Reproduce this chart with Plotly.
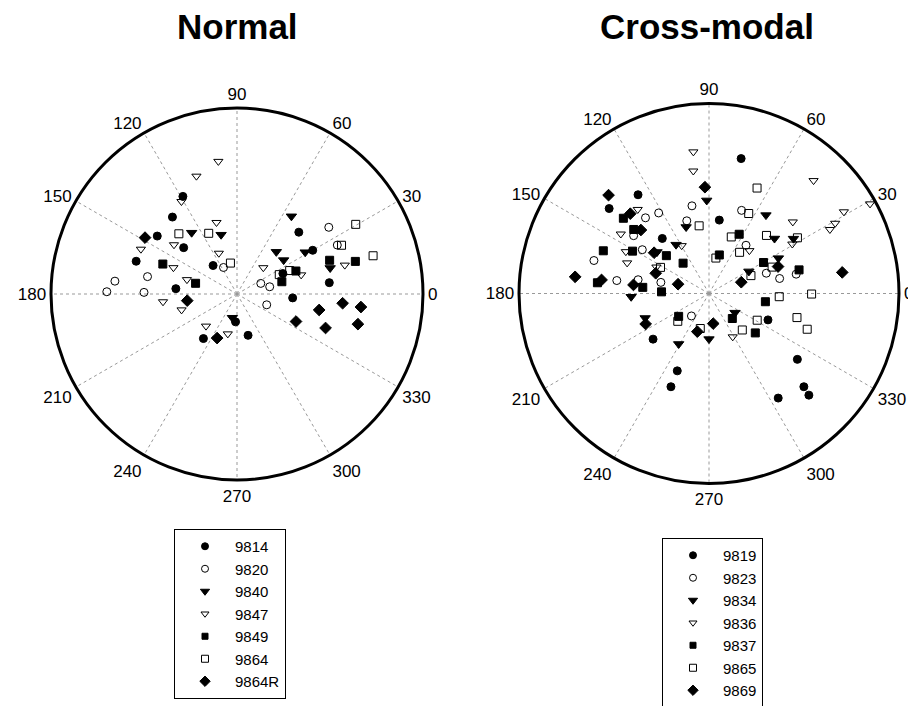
import plotly.graph_objects as go

# ---- Normal panel (angle in degrees, normalized radius) ----
n_names = ["9814", "9820", "9840", "9847", "9849", "9864", "9864R"]
n9814_theta = [119, 130, 144, 139, 162, 130, 175, 267, 233, 285, 356, 45, 30, 7, 24]
n9814_r = [0.60, 0.54, 0.53, 0.38, 0.57, 0.20, 0.33, 0.15, 0.30, 0.23, 0.30, 0.47, 0.47, 0.50, 0.27]
n9820_theta = [117, 174, 169, 179, 179, 340, 36, 26, 24, 12.5]
n9820_r = [0.16, 0.66, 0.49, 0.70, 0.50, 0.17, 0.61, 0.60, 0.14, 0.18]
n9840_theta = [126.5, 105, 259, 55, 31.5, 47, 36, 15.6]
n9840_r = [0.41, 0.33, 0.13, 0.51, 0.43, 0.31, 0.31, 0.52]
n9847_theta = [98, 109, 121, 106, 142, 155, 114, 157.5, 164, 186, 196, 226, 257, 45, 15, 16.6]
n9847_r = [0.72, 0.67, 0.58, 0.40, 0.43, 0.57, 0.24, 0.37, 0.28, 0.40, 0.31, 0.24, 0.22, 0.20, 0.60, 0.36]
n9849_theta = [158, 165.5, 20, 15.4, 21.3, 15.3]
n9849_r = [0.43, 0.23, 0.53, 0.66, 0.34, 0.25]
n9864_theta = [134, 115, 102, 30.4, 25, 15.7, 24.6, 24]
n9864_r = [0.45, 0.36, 0.17, 0.74, 0.62, 0.76, 0.25, 0.31]
n9864R_theta = [148.5, 187.6, 245.7, 349, 355, 354, 335, 339, 346]
n9864R_r = [0.58, 0.27, 0.26, 0.45, 0.57, 0.67, 0.35, 0.51, 0.67]

# ---- Cross-modal panel ----
c_names = ["9819", "9823", "9834", "9836", "9837", "9865", "9869"]
c9819_theta = [125.7, 139.6, 130.3, 219.2, 247.7, 247.8, 76.6, 82, 335.9, 323.3, 315.5, 314.5, 303.5]
c9819_r = [0.64, 0.69, 0.38, 0.38, 0.44, 0.53, 0.73, 0.39, 0.34, 0.58, 0.70, 0.75, 0.66]
c9823_theta = [101, 107, 130, 122, 142.5, 146.7, 164, 172, 169, 167, 232, 68.6, 52.5, 19.5, 12, 12.5]
c9823_r = [0.47, 0.40, 0.52, 0.50, 0.50, 0.42, 0.63, 0.49, 0.38, 0.26, 0.15, 0.47, 0.32, 0.32, 0.38, 0.47]
c9834_theta = [91.4, 109, 124, 141.4, 182.4, 201, 239, 270, 323.6, 54, 40, 33, 27, 29]
c9834_r = [0.49, 0.37, 0.31, 0.35, 0.41, 0.36, 0.31, 0.24, 0.17, 0.51, 0.45, 0.53, 0.41, 0.24]
c9836_theta = [96.3, 97.3, 130.3, 146, 119.7, 153.3, 159.5, 153.3, 298.7, 47.2, 29.1, 31.2, 29.1, 27.9, 40.5, 30.7, 46.7]
c9836_r = [0.75, 0.65, 0.58, 0.56, 0.29, 0.49, 0.46, 0.31, 0.26, 0.81, 0.97, 0.83, 0.76, 0.72, 0.58, 0.51, 0.31]
c9837_theta = [138.7, 139.6, 158, 151, 138.4, 130.5, 174.5, 174.7, 178, 217, 351.7, 313, 319.6, 63, 75, 29.6, 14.7]
c9837_r = [0.60, 0.52, 0.60, 0.46, 0.30, 0.21, 0.59, 0.35, 0.25, 0.20, 0.30, 0.18, 0.32, 0.35, 0.21, 0.33, 0.49]
c9865_theta = [98.3, 151.7, 221.7, 256, 357.4, 359.7, 331, 344.7, 340, 312.4, 65.5, 63.6, 68.5, 45.3, 32.2, 53.4, 79, 22.7, 23.1]
c9865_r = [0.36, 0.29, 0.22, 0.19, 0.37, 0.54, 0.29, 0.48, 0.55, 0.26, 0.61, 0.47, 0.32, 0.43, 0.55, 0.27, 0.19, 0.36, 0.24]
c9869_theta = [92.2, 135.6, 134.6, 137, 143.4, 172.9, 172.8, 173.5, 159.2, 163.3, 205.7, 253, 278, 21.3, 9, 19.3]
c9869_r = [0.56, 0.74, 0.59, 0.49, 0.36, 0.71, 0.57, 0.40, 0.30, 0.17, 0.37, 0.21, 0.16, 0.39, 0.71, 0.18]

angle_ticks = [0, 30, 60, 90, 120, 150, 180, 210, 240, 270, 300, 330]

symbols = ["circle", "circle-open", "triangle-down", "triangle-down-open",
           "square", "square-open", "diamond"]
sizes = [8, 8, 9, 8, 8, 8, 9]
legend_sizes = [7, 7, 8, 7, 6, 7, 8]

n_theta = [n9814_theta, n9820_theta, n9840_theta, n9847_theta, n9849_theta, n9864_theta, n9864R_theta]
n_r = [n9814_r, n9820_r, n9840_r, n9847_r, n9849_r, n9864_r, n9864R_r]
c_theta = [c9819_theta, c9823_theta, c9834_theta, c9836_theta, c9837_theta, c9865_theta, c9869_theta]
c_r = [c9819_r, c9823_r, c9834_r, c9836_r, c9837_r, c9865_r, c9869_r]

fig = go.Figure()


def add_panel(names, thetas, rs, subplot, legend):
    for i, name in enumerate(names):
        fig.add_trace(go.Scatterpolar(
            r=rs[i], theta=thetas[i], mode="markers", name=name,
            subplot=subplot, showlegend=False, legendgroup=subplot + name,
            marker=dict(symbol=symbols[i], size=sizes[i], color="black",
                        line=dict(color="black", width=1)),
        ))
    # legend entries with smaller symbols (no data)
    for i, name in enumerate(names):
        fig.add_trace(go.Scatterpolar(
            r=[None], theta=[None], mode="markers", name=name,
            subplot=subplot, legend=legend, legendgroup=subplot + name,
            marker=dict(symbol=symbols[i], size=legend_sizes[i], color="black",
                        line=dict(color="black", width=1)),
        ))


add_panel(n_names, n_theta, n_r, "polar", "legend")
add_panel(c_names, c_theta, c_r, "polar2", "legend2")

# page has an 8px body margin; work in page pixels and shift
OFF = 8
W, H = 916, 706


def fx(px):
    return (px - OFF) / W


def fy(py):
    return 1 - (py - OFF) / H


def polar_cfg(cx, cy, R):
    return dict(
        domain=dict(x=[fx(cx - R), fx(cx + R)], y=[fy(cy + R), fy(cy - R)]),
        bgcolor="white",
        radialaxis=dict(visible=False, range=[0, 1], showgrid=False),
        angularaxis=dict(
            tickmode="array", tickvals=angle_ticks,
            ticktext=[str(a) for a in angle_ticks],
            direction="counterclockwise", rotation=0,
            showline=True, linecolor="black", linewidth=3,
            showgrid=True, gridcolor="#999999", gridwidth=1, griddash="dot",
            ticks="", tickfont=dict(size=17, color="black"),
        ),
    )


legend_common = dict(
    bgcolor="white", bordercolor="black", borderwidth=1,
    font=dict(size=15, color="black", family="Liberation Sans, Arial, sans-serif"),
    itemsizing="trace", itemwidth=50, tracegroupgap=0,
    xanchor="left", yanchor="top",
)

fig.update_layout(
    width=W, height=H, autosize=False,
    margin=dict(l=0, r=0, t=0, b=0),
    paper_bgcolor="white",
    font=dict(family="Liberation Sans, Arial, sans-serif", color="black"),
    polar=polar_cfg(237, 294, 186),
    polar2=polar_cfg(709, 293.5, 190),
    legend=dict(x=fx(174), y=fy(529), **legend_common),
    legend2=dict(x=fx(662), y=fy(538), **legend_common),
    annotations=[
        dict(text="<b>Normal</b>", x=fx(237), y=fy(27), xref="paper", yref="paper",
             showarrow=False, xanchor="center", yanchor="middle",
             font=dict(size=35, color="black")),
        dict(text="<b>Cross-modal</b>", x=fx(707), y=fy(27), xref="paper", yref="paper",
             showarrow=False, xanchor="center", yanchor="middle",
             font=dict(size=35, color="black")),
    ],
)

fig.write_html("out.html")
